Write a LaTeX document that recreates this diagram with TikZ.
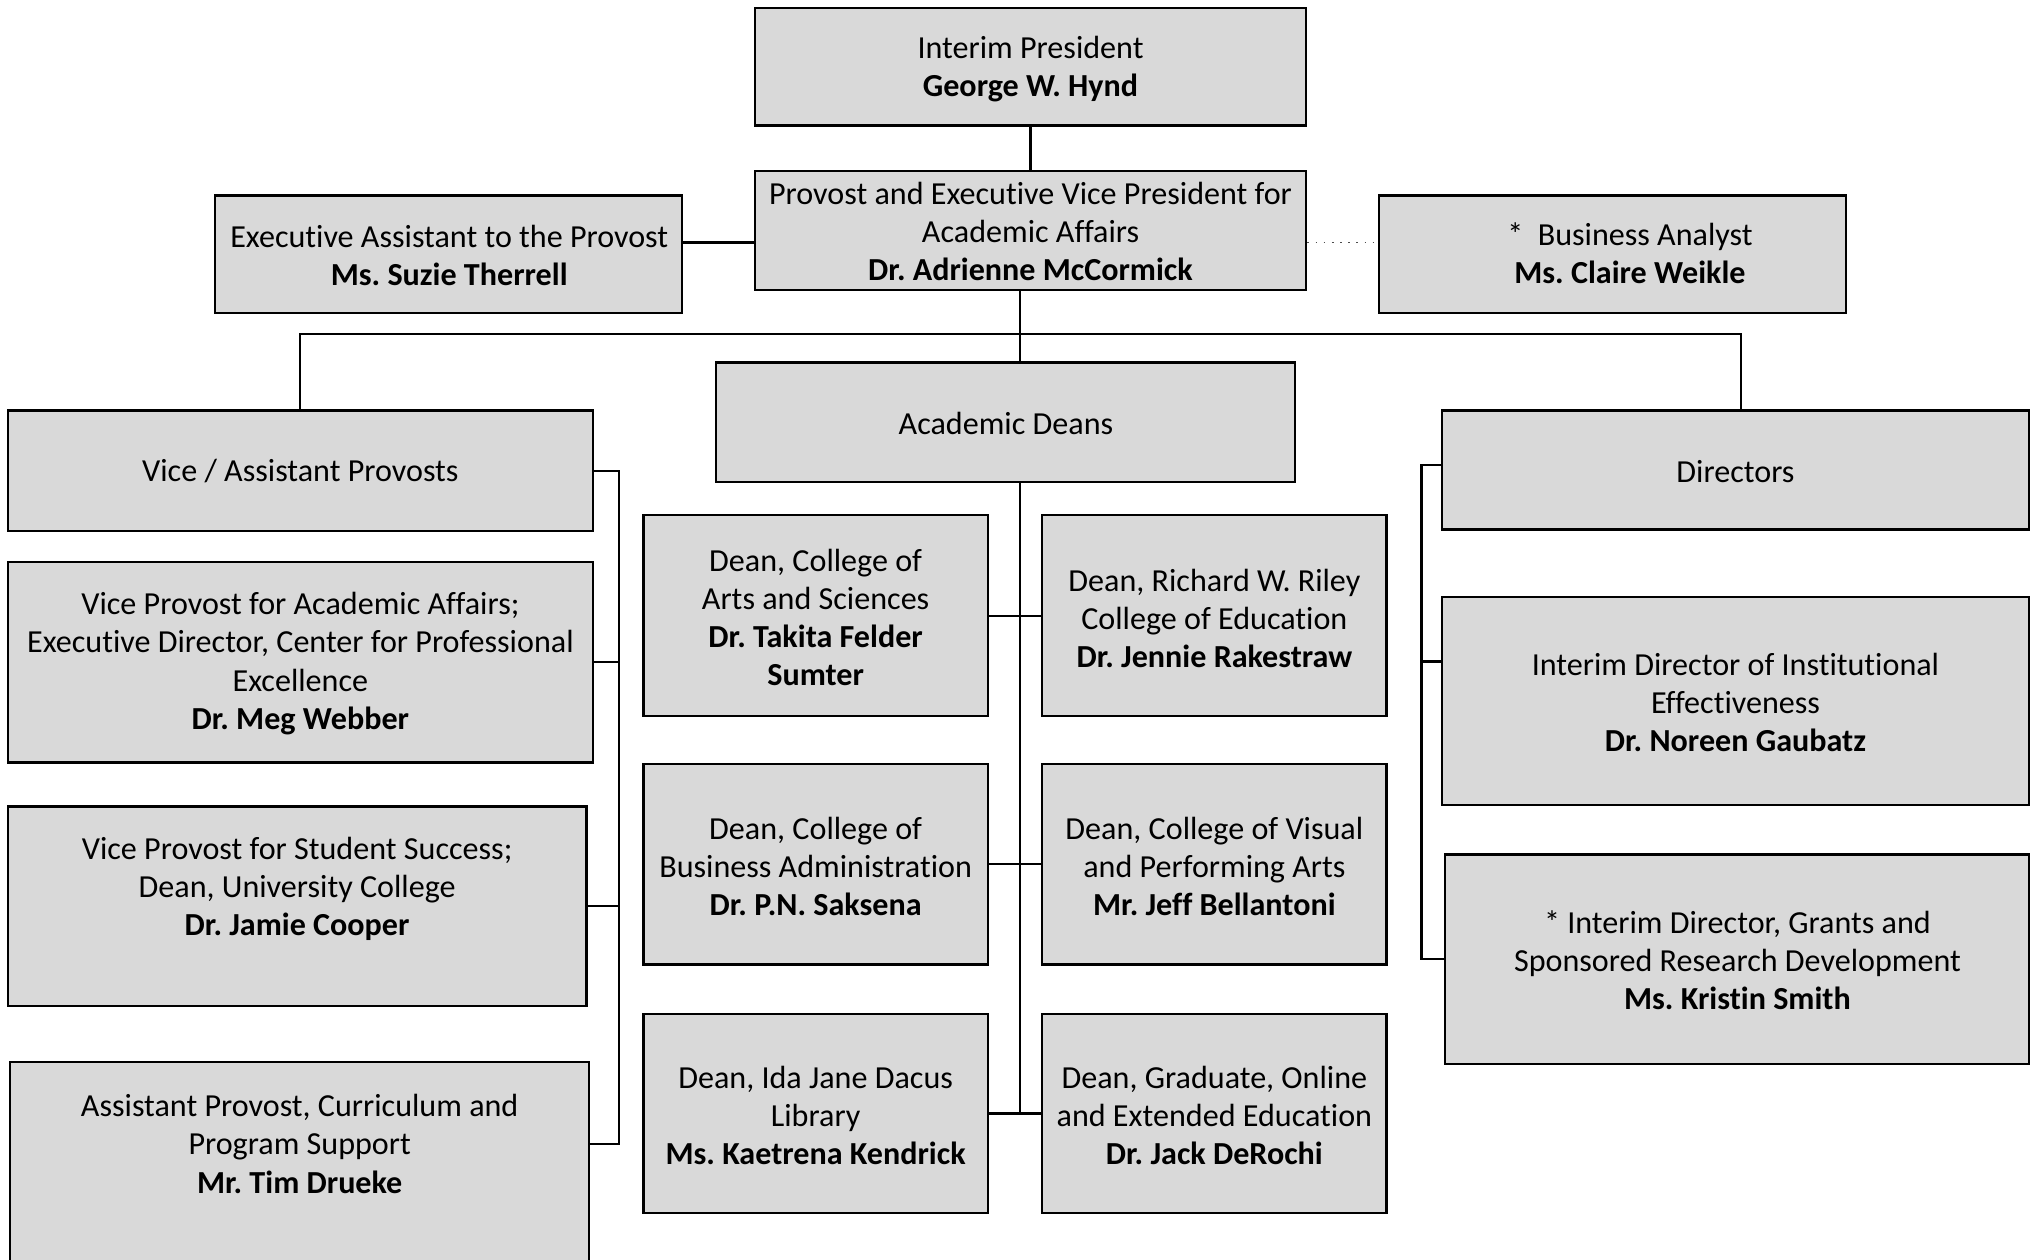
\documentclass[tikz,border=0pt]{standalone}
\usepackage{fontspec}
\setmainfont{Carlito}[Ligatures=NoCommon]
\usetikzlibrary{calc}
\definecolor{boxgray}{HTML}{D9D9D9}
\tikzset{
  orgbox/.style={draw=black, fill=boxgray, line width=1.7pt, rectangle, inner sep=0pt},
  orgtxt/.style={align=center, font=\fontsize{24.8}{29.5}\selectfont\frenchspacing, inner sep=0pt},
  conn/.style={line width=1.7pt, black},
  dotconn/.style={line width=1.3pt, black!70, dash pattern=on 1.3pt off 5pt},
}
\newcommand{\mkbox}[5]{\node[orgbox, minimum width={(#4-#2)*1pt}, minimum height={(#5-#3)*1pt}] (#1) at ({(#2+#4)/2},{(#3+#5)/2}) {};}
\begin{document}
\begin{tikzpicture}[x=1pt,y=-1pt]
\useasboundingbox (0,0) rectangle (1568,973);
\clip (0,0) rectangle (1568,973);
% boxes
\mkbox{pres}{583}{6}{1009}{97}
\mkbox{prov}{583}{132}{1009}{224}
\mkbox{ea}{166}{151}{527}{242}
\mkbox{ba}{1065}{151}{1426}{242}
\mkbox{vap}{6}{317}{458}{410}
\mkbox{ad}{553}{280}{1000}{372}
\mkbox{dir}{1114}{317}{1567}{409}
\mkbox{vpaa}{6}{434}{458}{589}
\mkbox{vpss}{6}{623}{453}{777}
\mkbox{ap}{8}{820}{455}{990}
\mkbox{da}{497}{398}{763}{553}
\mkbox{db}{805}{398}{1071}{553}
\mkbox{dc}{497}{590}{763}{745}
\mkbox{dd}{805}{590}{1071}{745}
\mkbox{de}{497}{783}{763}{937}
\mkbox{df}{805}{783}{1071}{937}
\mkbox{ie}{1114}{461}{1567}{622}
\mkbox{gr}{1116}{660}{1567}{822}
% texts
\node[orgtxt] (prest) at (796,53.5) {Interim President\\\textbf{George W. Hynd}};
\node[orgtxt] (provt) at (796,179) {Provost and Executive Vice President for\\Academic Affairs\\\textbf{Dr. Adrienne McCormick}};
\node[orgtxt] (eat) at (347,197.5) {Executive Assistant to the Provost\\\textbf{Ms. Suzie Therrell}};
\node[orgtxt] (bat) at (1259,195.5) {*~~Business Analyst\\\textbf{Ms. Claire Weikle}};
\node[orgtxt] (vapt) at (232,364) {Vice / Assistant Provosts};
\node[orgtxt] (adt) at (777,327) {Academic Deans};
\node[orgtxt] (dirt) at (1340.5,364) {Directors};
\node[orgtxt] (vpaat) at (232,512.5) {Vice Provost for Academic Affairs;\\Executive Director, Center for Professional\\Excellence\\\textbf{Dr. Meg Webber}};
\node[orgtxt] (vpsst) at (229.5,686.5) {Vice Provost for Student Success;\\Dean, University College\\\textbf{Dr. Jamie Cooper}};
\node[orgtxt] (apt) at (231.5,883.5) {Assistant Provost, Curriculum and\\Program Support\\\textbf{Mr. Tim Drueke}};
\node[orgtxt] (dat) at (630,477) {Dean, College of\\Arts and Sciences\\\textbf{Dr. Takita Felder}\\\textbf{Sumter}};
\node[orgtxt] (dbt) at (938,477.5) {Dean, Richard W. Riley\\College of Education\\\textbf{Dr. Jennie Rakestraw}};
\node[orgtxt] (dct) at (630,669.5) {Dean, College of\\Business Administration\\\textbf{Dr. P.N. Saksena}};
\node[orgtxt] (ddt) at (938,669.5) {Dean, College of Visual\\and Performing Arts\\\textbf{Mr. Jeff Bellantoni}};
\node[orgtxt] (det) at (630,861.5) {Dean, Ida Jane Dacus\\Library\\\textbf{Ms. Kaetrena Kendrick}};
\node[orgtxt] (dft) at (938,861.5) {Dean, Graduate, Online\\and Extended Education\\\textbf{Dr. Jack DeRochi}};
\node[orgtxt] (iet) at (1340.5,542.5) {Interim Director of Institutional\\Effectiveness\\\textbf{Dr. Noreen Gaubatz}};
\node[orgtxt] (grt) at (1342,741.5) {* Interim Director, Grants and\\Sponsored Research Development\\\textbf{Ms. Kristin Smith}};
% connector coordinates
\coordinate (side) at ($(ea.east)!0.5!(prov.west)$);
\coordinate (bus) at (788,258);
\coordinate (busr) at (1345,258);
\coordinate (lbx) at (478,0);
\coordinate (r1) at (1098,359);
\coordinate (r2) at (1098,511);
\coordinate (r3) at (1098,741);
% connectors
\draw[conn] (pres.south) -- (prov.north);
\draw[conn] (ea.east |- side) -- (prov.west |- side);
\draw[dotconn] (prov.east |- side) -- (ba.west |- side);
\draw[conn] (prov.south -| bus) -- (bus);
\draw[conn] (vap.north) |- (bus) -- (busr) -- (busr |- dir.north);
\draw[conn] (bus) -- (ad.north -| bus);
\draw[conn] (ad.south -| bus) -- (de.east -| bus);
\draw[conn] (da.east) -- (db.west);
\draw[conn] (dc.east) -- (dd.west);
\draw[conn] (de.east) -- (df.west);
\draw[conn] (vap.east) -- (vap.east -| lbx) -- (apt -| lbx) -- (apt -| ap.east);
\draw[conn] (vpaa.east) -- (vpaa.east -| lbx);
\draw[conn] (vpss.east) -- (vpss.east -| lbx);
\draw[conn] (dir.west |- r1) -- (r1) -- (r3) -- (gr.west |- r3);
\draw[conn] (r2) -- (ie.west |- r2);
\end{tikzpicture}
\end{document}
